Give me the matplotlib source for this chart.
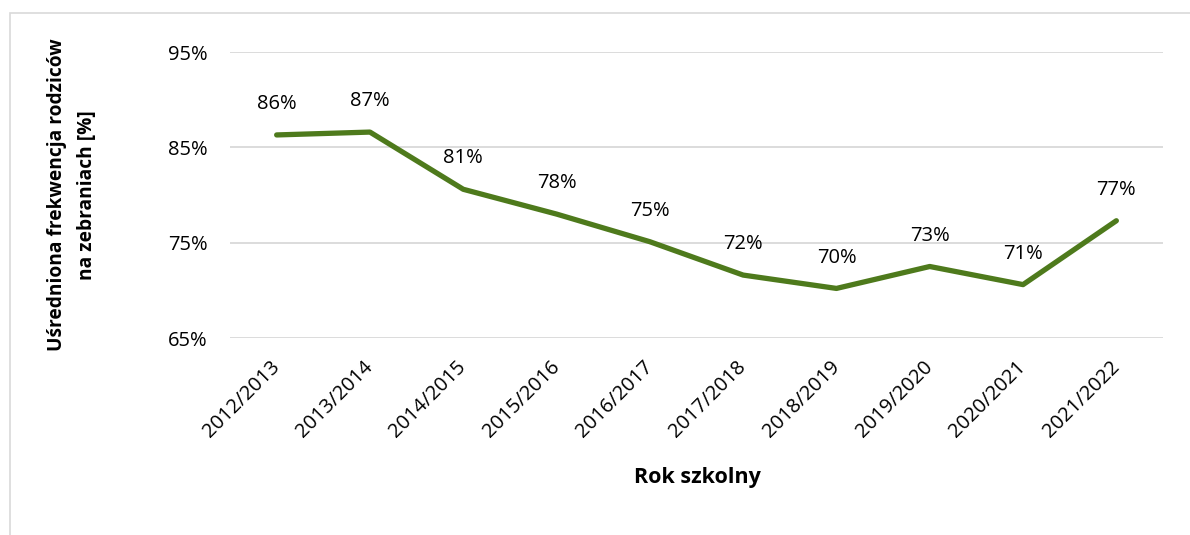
import matplotlib.pyplot as plt
from matplotlib.patches import Rectangle

years = ["2012/2013", "2013/2014", "2014/2015", "2015/2016", "2016/2017",
         "2017/2018", "2018/2019", "2019/2020", "2020/2021", "2021/2022"]
attendance = [86.3, 86.6, 80.6, 78.0, 75.1, 71.6, 70.2, 72.5, 70.6, 77.3]
labels = ["86%", "87%", "81%", "78%", "75%", "72%", "70%", "73%", "71%", "77%"]
yticks = [65, 75, 85, 95]

plt.rcParams["font.family"] = ["Open Sans", "DejaVu Sans"]

fig = plt.figure(figsize=(11.9, 5.35), dpi=100)
W, H = 1190, 535
ax = fig.add_axes([230 / W, 1 - 338 / H, (1163 - 230) / W, (338 - 52) / H])

# outer chart border
fig.patches.append(Rectangle((10 / W, -0.1), 1.2, 1 - 13 / H + 0.1,
                             transform=fig.transFigure, fill=False,
                             edgecolor="#d9d9d9", linewidth=1.2))

x = list(range(len(years)))
ax.plot(x, attendance, color="#4E7A1C", linewidth=3.8, solid_capstyle="round",
        solid_joinstyle="round", zorder=3)

for xi, yi, lab in zip(x, attendance, labels):
    ax.annotate(lab, (xi, yi), xytext=(0, 15), textcoords="offset points",
                ha="center", va="bottom", fontsize=14.5, color="#000000")

ax.set_xlim(-0.5, len(years) - 0.5)
ax.set_ylim(65, 95)
ax.set_yticks(yticks)
ax.set_yticklabels([f"{v}%" for v in yticks], fontsize=14.5)
ax.set_xticks(x)
ax.set_xticklabels(years, rotation=45, ha="right", va="center",
                   rotation_mode="anchor", fontsize=14.5)
ax.tick_params(axis="both", length=0)
ax.tick_params(axis="y", pad=16)
ax.tick_params(axis="x", pad=19)
ax.grid(axis="y", color="#d9d9d9", linewidth=1.3)
ax.set_axisbelow(True)
for s in ax.spines.values():
    s.set_visible(False)

fig.text(697 / W, 1 - 478 / H, "Rok szkolny", ha="center", va="center",
         fontsize=15.5, fontweight="bold")
fig.text(72 / W, 1 - 195 / H, "Uśredniona frekwencja rodziców\nna zebraniach [%]",
         ha="center", va="center", rotation=90, fontsize=13.8,
         fontweight="bold", linespacing=1.7)

fig.savefig("out.png", dpi=100)
